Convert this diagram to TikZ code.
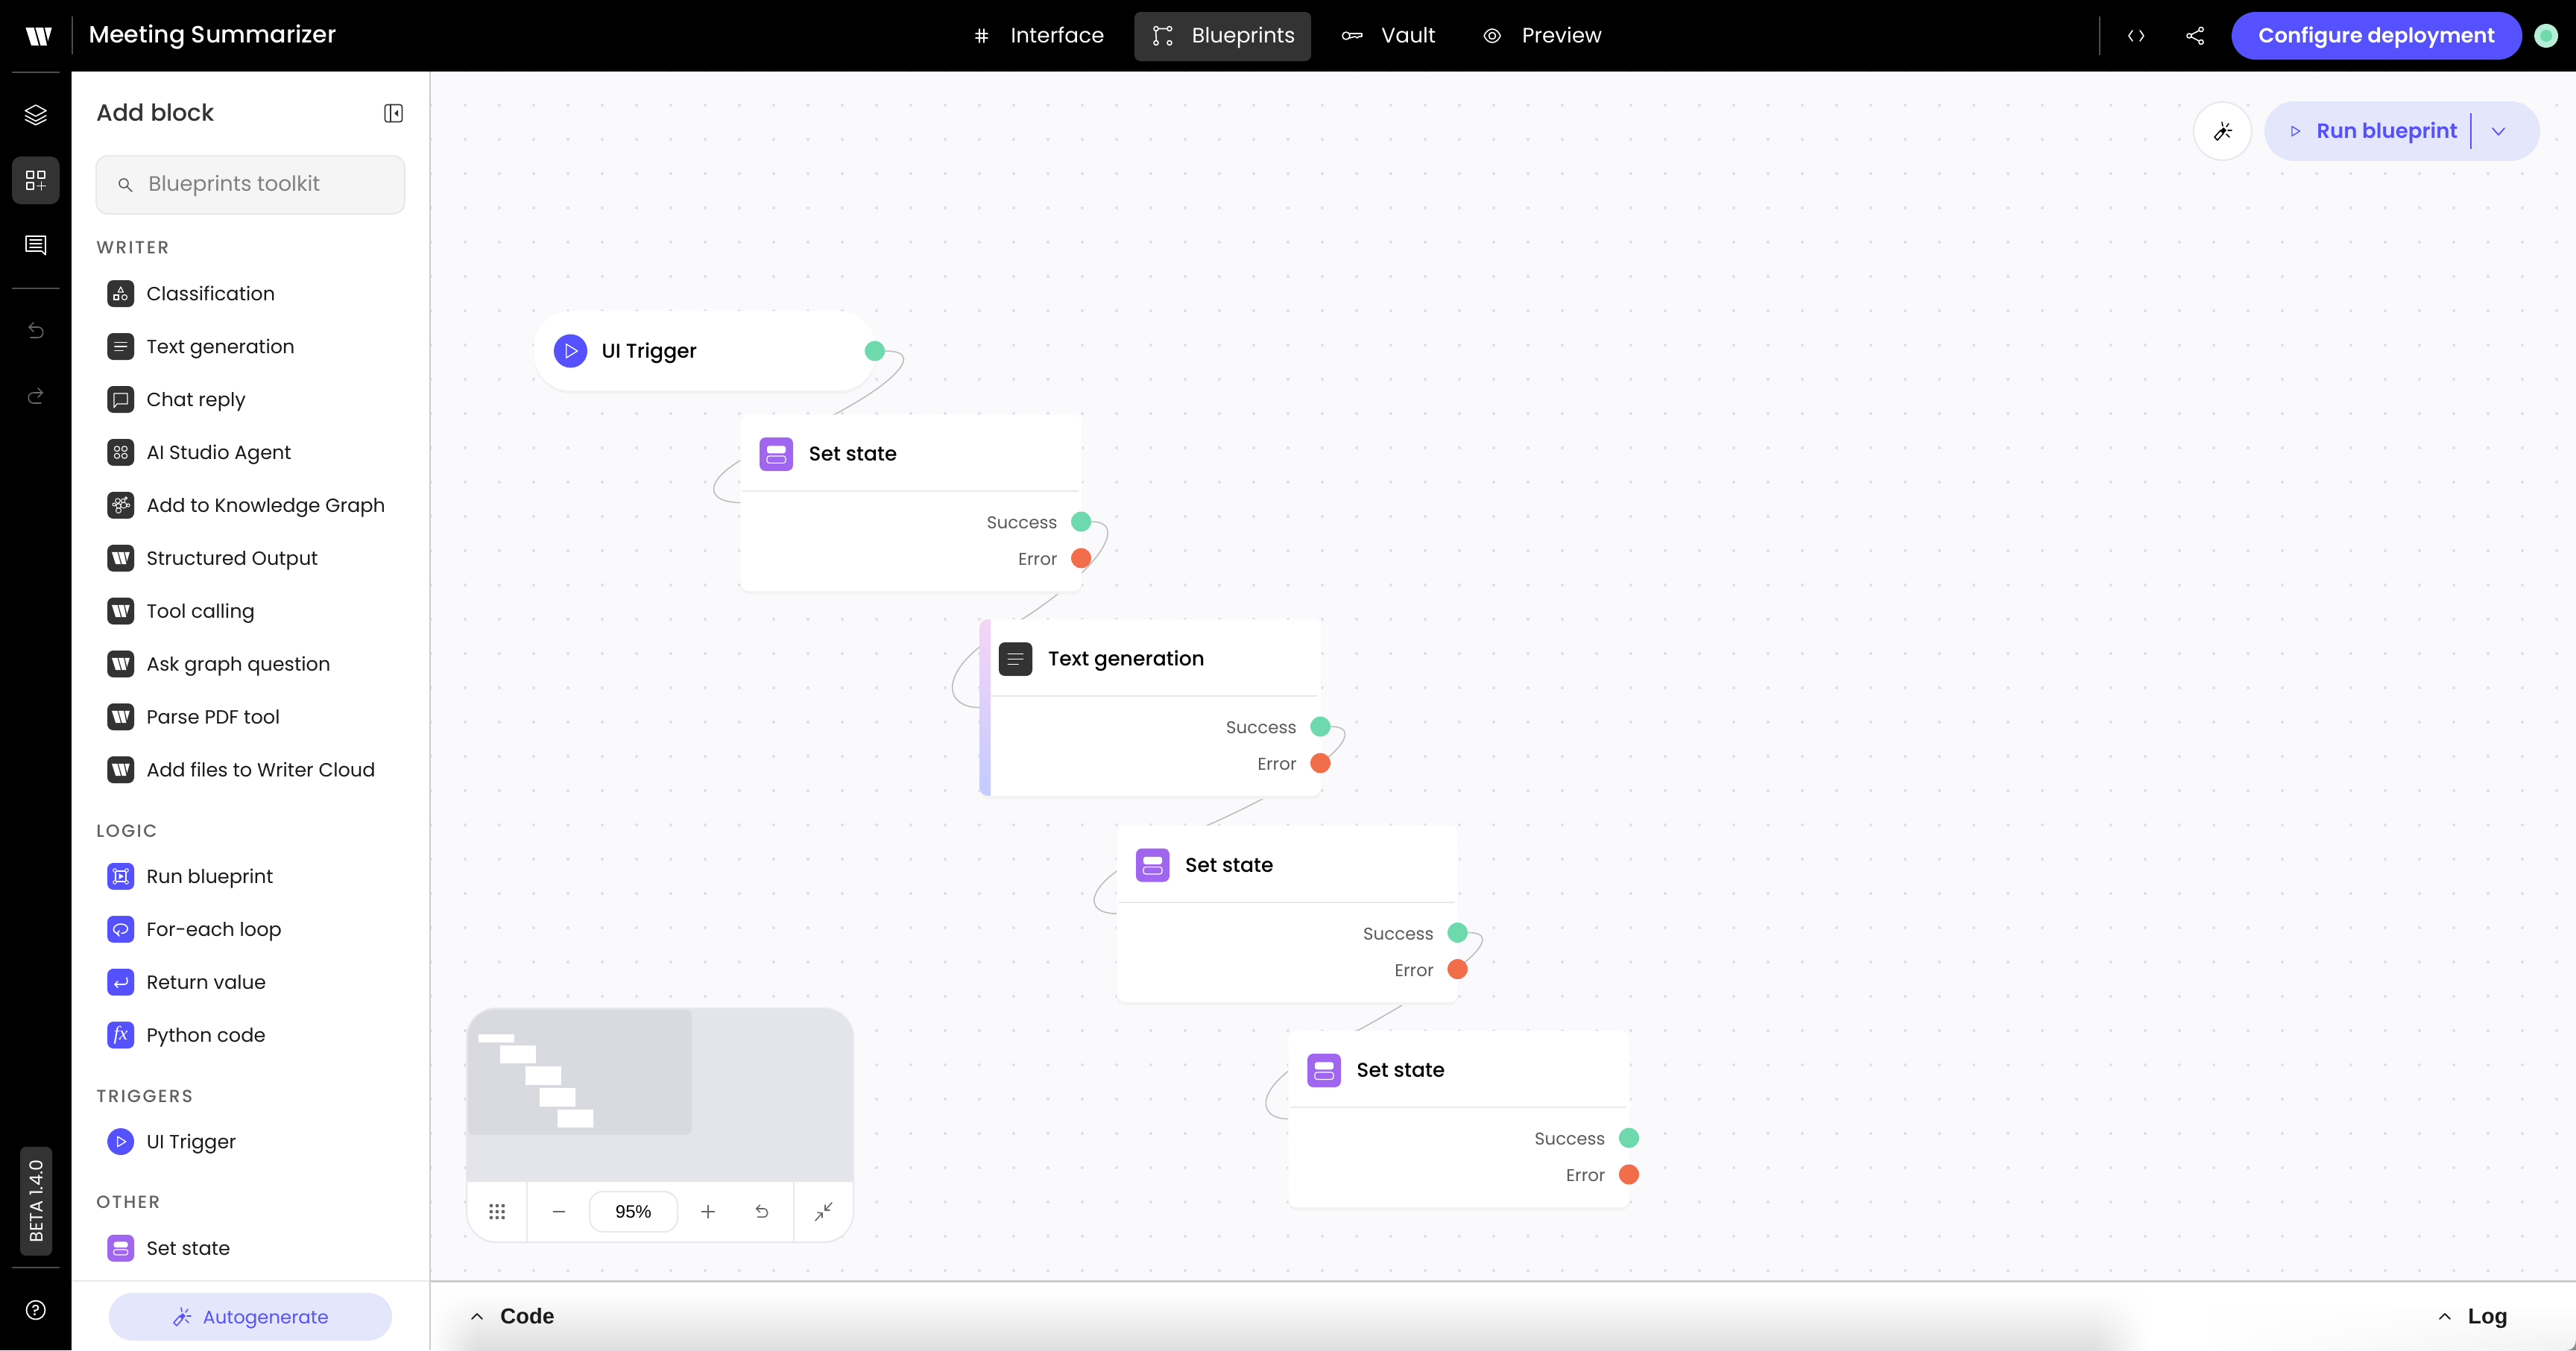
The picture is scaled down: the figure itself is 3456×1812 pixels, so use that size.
\documentclass[tikz,border=0pt]{standalone}
\usepackage{fontspec}
\setmainfont{Poppins}
\newfontfamily\popmed{Poppins Medium}
\newfontfamily\popsemi{Poppins SemiBold}
\newfontfamily\helv{Liberation Sans}
\newfontfamily\serifit{Liberation Serif}
\usetikzlibrary{positioning,shadows,fadings}
\pgfdeclarelayer{back}
\pgfsetlayers{back,main}

\definecolor{canvasbg}{HTML}{FAFAFD}
\definecolor{griddot}{HTML}{DEDEE4}
\definecolor{ink}{HTML}{1A1A1A}
\definecolor{darkbox}{HTML}{333333}
\definecolor{indigo}{HTML}{5551FF}
\definecolor{lilac}{HTML}{E4E7FB}
\definecolor{setpurple}{HTML}{A066F0}
\definecolor{okgreen}{HTML}{6FD9AE}
\definecolor{errorange}{HTML}{F26E4B}
\definecolor{wiregray}{HTML}{BDBDBD}
\definecolor{hairline}{HTML}{E8E8EE}
\definecolor{mapback}{HTML}{E4E5EA}
\definecolor{mapview}{HTML}{D9DAE0}
\definecolor{stripetop}{HTML}{F5D5F5}
\definecolor{stripebot}{HTML}{C3CBFF}

\tikzset{
  icn/.style={line width=.8pt,line cap=round,line join=round},
  iconbox/.style={fill=#1,rounded corners=4pt,minimum size=18pt,inner sep=0pt},
  iconround/.style={fill=#1,circle,minimum width=18pt,minimum height=18pt,inner sep=0pt},
  itemlabel/.style={font=\fontsize{12.8}{16}\selectfont,text=ink,anchor=mid west,inner sep=0pt,yshift=-2.2pt},
  grouplabel/.style={font=\popmed\fontsize{11.8}{14}\selectfont\addfontfeatures{LetterSpace=10},text=black!62,anchor=mid west,inner sep=0pt,yshift=-1.8pt},
  navlabel/.style={font=\fontsize{14}{16}\selectfont,text=white,anchor=mid west,inner sep=0pt,yshift=-1.8pt},
  blockbox/.style={fill=white,rounded corners=6pt,anchor=north west,minimum width=229pt,minimum height=118.5pt,inner sep=0pt,
    copy shadow={shadow xshift=0pt,shadow yshift=-2pt,fill=black!5,draw=none}},
  blocktitle/.style={font=\popmed\fontsize{13.35}{16}\selectfont,text=black,anchor=mid west,inner sep=0pt,yshift=-1.8pt},
  portlabel/.style={font=\fontsize{11.5}{14}\selectfont,text=black!65,anchor=mid east,inner sep=0pt,yshift=-2pt},
  portdot/.style={circle,fill=#1,minimum size=13.5pt,inner sep=0pt},
  wire/.style={draw=wiregray,line width=.8pt},
  pics/wmark/.style={code={
    \fill (-17.6,-12)--(-6.5,-12)--(0,12)--(-10,12)--cycle;
    \fill (-4.5,-12)--(6,-12)--(11,12)--(2.5,12)--cycle;
    \fill (8,-12)--(17.6,-12)--(12.5,6)--cycle;}},
  pics/layers/.style={code={
    \draw[icn] (0,-13)--(14,-5.5)--(0,2)--(-14,-5.5)--cycle;
    \draw[icn] (-14,1)--(0,8.5)--(14,1);
    \draw[icn] (-14,6.5)--(0,13.5)--(14,6.5);}},
  pics/apps/.style={code={
    \draw[icn] (-12,-12) rectangle (-3,-3);
    \draw[icn] (3,-12) rectangle (12,-3);
    \draw[icn] (-12,3) rectangle (-3,12);
    \draw[icn] (7.5,2)--(7.5,13) (2,7.5)--(13,7.5);}},
  pics/comment/.style={code={
    \draw[icn] (-13,-11)--(13,-11)--(13,14)--(8,9)--(-13,9)--cycle;
    \draw[icn] (-8,-6)--(8,-6) (-8,-1)--(8,-1) (-8,4)--(8,4);}},
  pics/undoarrow/.style={code={
    \draw[icn] (-3,-11)--(-9,-5)--(-3,1);
    \draw[icn] (-9,-5)--(3,-5) .. controls (12,-5) and (12,9) .. (3,9)--(-7,9);}},
  pics/panelicon/.style={code={
    \draw[icn,rounded corners=1.5pt] (-11.5,-11.5) rectangle (11.5,11.5);
    \draw[icn] (-4,-11.5)--(-4,11.5);
    \fill (6,-4.5)--(6,4.5)--(1,0)--cycle;}},
  pics/lens/.style={code={
    \draw[icn] (-2,-2) circle (6);
    \draw[icn] (2.5,2.5)--(9,9);}},
  pics/hash/.style={code={
    \draw[icn] (-3,-9)--(-3,9) (3,-9)--(3,9) (-8,-3)--(8,-3) (-8,3)--(8,3);}},
  pics/flow/.style={code={
    \draw[icn] (-9,-9.5) circle (3) (9,-9.5) circle (3) (-9,9.5) circle (3) (9,9.5) circle (3);
    \draw[icn] (-6,-9.5)--(6,-9.5) (-9,-6.5) .. controls (-10,-2) and (-8,2) .. (-9,6.5);}},
  pics/keyicon/.style={code={
    \draw[icn] (-9,0) ellipse (5 and 5);
    \draw[icn] (-4,-3)--(12,-3)--(12,1)--(8,1)--(6,3)--(3,1)--(-4,3);}},
  pics/eye/.style={code={
    \draw[icn] (-11,0) .. controls (-6,-12) and (6,-12) .. (11,0) .. controls (6,12) and (-6,12) .. (-11,0)--cycle;
    \draw[icn] (0,0) circle (4.5);}},
  pics/codeicon/.style={code={
    \draw[icn] (-5,-7)--(-10,0)--(-5,7) (5,-7)--(10,0)--(5,7);}},
  pics/share/.style={code={
    \draw[icn] (8,-8.5) circle (3) (-8,0) circle (3) (8,8.5) circle (3);
    \draw[icn] (5.3,-7)--(-5.3,-1.5) (-5.3,1.5)--(5.3,7);}},
  pics/wand/.style={code={
    \draw[icn] (-11,8)--(-3,-1)--(1,3)--(-7,12)--cycle;
    \fill (-3,-1)--(1,-5)--(5,-1)--(1,3)--cycle;
    \draw[icn] (-1,-12)--(0,-7) (8,-10)--(5,-6) (12,-1)--(7,-1) (9,8)--(5,4);}},
  pics/shapes3/.style={code={
    \draw[line width=.6pt,line join=round] (-3.5,-2)--(0,-9)--(3.5,-2)--cycle;
    \draw[line width=.6pt] (-9,2) rectangle (-3,8);
    \draw[line width=.6pt] (5,5) circle (3.5);}},
  pics/lines3/.style={code={
    \draw[icn] (-8,-5.5)--(8,-5.5) (-8,0)--(8,0) (-8,5.5)--(3,5.5);}},
  pics/bubble/.style={code={
    \draw[line width=.6pt,line join=round] (-9,-8)--(9,-8)--(9,6)--(-5,6)--(-9,11)--cycle;}},
  pics/agent/.style={code={
    \draw[line width=.6pt,rounded corners=1.5pt] (-8.5,-8) rectangle (-1.5,-1.5);
    \draw[line width=.6pt,rounded corners=1.5pt] (1.5,-8) rectangle (8.5,-1.5);
    \draw[line width=.6pt,rounded corners=1.5pt] (-8.5,1.5) rectangle (-1.5,8);
    \draw[line width=.6pt,rounded corners=1.5pt] (1.5,1.5) rectangle (8.5,8);}},
  pics/kgraph/.style={code={
    \draw[line width=.5pt] (-4,-6) circle (3.2) (3,-6) circle (2.6) (7,-9.5) circle (1.6) (-9,-1) circle (2)
      (-3,1) circle (3.2) (4,0) circle (4) (10,0) circle (2) (-3,7) circle (3.5);}},
  pics/runbp/.style={code={
    \draw[line width=.6pt] (-7,-7) rectangle (7,7);
    \fill[indigo] (-8,-8) circle (2.6) (8,-8) circle (2.6) (-8,8) circle (2.6) (8,8) circle (2.6);
    \draw[line width=.5pt] (-8,-8) circle (2.3) (8,-8) circle (2.3) (-8,8) circle (2.3) (8,8) circle (2.3);
    \fill (-2.5,-4)--(4,0)--(-2.5,4)--cycle;}},
  pics/loopicon/.style={code={
    \draw[icn] (-3,6) .. controls (-14,4) and (-10,-7) .. (0,-7) .. controls (12,-7) and (12,5) .. (1,5.5);
    \draw[icn] (-2,2)--(-5,6)--(-2,9);}},
  pics/retarrow/.style={code={
    \draw[icn] (8,-6) .. controls (10,0) and (9,3) .. (4,3)--(-8,3);
    \draw[icn] (-4,-1)--(-8,3)--(-4,7);}},
  pics/playicon/.style={code={
    \draw[line width=.7pt,line join=round] (-5,-8)--(8,0)--(-5,8)--cycle;}},
  pics/setstate/.style={code={
    \fill[rounded corners=1.5pt] (-10,-9) rectangle (10,-1);
    \draw[line width=.6pt,rounded corners=1.5pt] (-10,2) rectangle (10,9.5);}},
}

\begin{document}
\begin{tikzpicture}[x=0.5pt,y=-0.5pt]
\useasboundingbox (0,0) rectangle (3456,1812);

% nodes of the flow
\node[blockbox,rounded corners=25pt,minimum width=229.5pt,minimum height=53.5pt] (trig) at (716,417) {};
\node[iconround=indigo,minimum width=22.5pt,minimum height=22.5pt] (trigicon) at (765.5,471) {};
\pic[color=white,scale=1.15] at (trigicon) {playicon};
\node[blocktitle] (trigtext) at (807,471) {UI Trigger};
\node[portdot=okgreen] (trigok) at (1173.7,471) {};

\foreach \bname/\bx/\by/\btext/\bicon/\bfill in {set1/993/556/Set state/setstate/setpurple,
    gen1/1314/831/Text generation/lines3/darkbox,
    set2/1498/1107.5/Set state/setstate/setpurple,
    set3/1728/1383/Set state/setstate/setpurple}{
  \node[blockbox] (\bname) at (\bx,\by) {};
  \node[iconbox=\bfill,minimum size=22.5pt] (\bname icon) at (\bx+48.5,\by+53.5) {};
  \pic[color=white,scale=1.25] at (\bname icon) {\bicon};
  \node[blocktitle] (\bname text) at (\bx+92,\by+53.5) {\btext};
  \draw[hairline,line width=1pt] (\bx+3,\by+103) -- (\bx+454,\by+103);
  \node[portlabel] (\bname oklabel) at (\bx+426,\by+144) {Success};
  \node[portlabel] (\bname errlabel) at (\bx+426,\by+193) {Error};
  \node[portdot=okgreen] (\bname ok) at (\bx+457.5,\by+144) {};
  \node[portdot=errorange] (\bname err) at (\bx+457.5,\by+193) {};
  \coordinate (\bname in) at (\bx,\by+118.5);
}
\begin{scope}
\clip (1314,820) rectangle (1329,1080);
\shade[top color=stripetop,bottom color=stripebot,rounded corners=6pt] (1314,831) rectangle (1350,1068);
\end{scope}

% the wires pass behind the blocks
\coordinate (via1) at (1060,585);
\coordinate (via2) at (1340,850);
\coordinate (via3) at (1560,1133);
\coordinate (via4) at (1775,1408);
\begin{pgfonlayer}{back}
\fill[canvasbg] (578,96) rectangle (3456,1721);
\foreach \dx in {0,...,62}
  \foreach \dy in {0,...,35}
    \fill[griddot] (578+46*\dx,95+46*\dy) circle (2);
\draw[wire] (trigok.east) .. controls +(64,0) and +(125,-55) .. (via1) .. controls +(-134,55) and +(-47,0) .. (set1in);
\draw[wire] (set1ok.east) .. controls +(54,0) and +(130,-75) .. (via2) .. controls +(-84,52) and +(-47,0) .. (gen1in);
\draw[wire] (gen1ok.east) .. controls +(52,0) and +(230,-93) .. (via3) .. controls +(-110,52) and +(-47,0) .. (set2in);
\draw[wire] (set2ok.east) .. controls +(50,0) and +(205,-108) .. (via4) .. controls +(-97,50) and +(-42,0) .. (set3in);
\end{pgfonlayer}

% top bar and rail
\fill[black] (0,0) rectangle (3456,96);
\fill[black] (0,96) rectangle (96,1812);
\pic[color=white] at (52,49) {wmark};
\draw[black!70,line width=.8pt] (97,22) -- (97,73);
\node[navlabel,font=\popmed\fontsize{15.85}{20}\selectfont] (title) at (119,48) {Meeting Summarizer};
\draw[black!70,line width=.8pt] (16,97) -- (80,97) (16,387) -- (80,387) (16,1701) -- (80,1701);
\pic[color=white] at (48,154) {layers};
\node[iconbox=darkbox,rounded corners=6pt,minimum size=32pt] (railactive) at (48,242) {};
\pic[color=white] at (railactive) {apps};
\pic[color=white] at (48,328) {comment};
\pic[color=black!60] at (48,444) {undoarrow};
\pic[color=black!60,xscale=-1] at (48,532) {undoarrow};
\node[fill=darkbox,rounded corners=4pt,minimum width=21.5pt,minimum height=73pt,inner sep=0pt] (betabox) at (48.5,1612) {};
\node[rotate=90,text=white,font=\fontsize{12}{14}\selectfont,inner sep=0pt] (beta) at (betabox) {BETA 1.4.0};
\node[circle,draw=white,line width=.9pt,minimum size=12.5pt,inner sep=0pt,text=white,font=\popmed\fontsize{10}{12}\selectfont] (help) at (48,1758) {?};

% navigation
\node[fill=darkbox,rounded corners=4pt,minimum width=118.5pt,minimum height=33pt,inner sep=0pt] (navactive) at (1640.5,49) {};
\pic[color=white] at (1317,48) {hash};
\node[navlabel] (nav1) at (1356,48) {Interface};
\pic[color=white] at (1560,48) {flow};
\node[navlabel] (nav2) at (1599,48) {Blueprints};
\pic[color=white] at (1815,48) {keyicon};
\node[navlabel] (nav3) at (1853,48) {Vault};
\pic[color=white] at (2002,48) {eye};
\node[navlabel] (nav4) at (2042,48) {Preview};
\draw[black!70,line width=.8pt] (2817,22) -- (2817,74);
\pic[color=white] at (2866,48) {codeicon};
\pic[color=white] at (2945,48) {share};
\node[fill=indigo,rounded corners=16pt,minimum width=195pt,minimum height=32pt,inner sep=0pt] (deploy) at (3189,48) {};
\node[anchor=mid,inner sep=0pt,yshift=-1.8pt,text=white,font=\popsemi\fontsize{13.8}{18}\selectfont] (deploytext) at (deploy) {Configure deployment};
\node[circle,fill=okgreen!50,minimum size=16pt,inner sep=0pt] (status) at (3416,48) {};
\node[circle,fill=okgreen,minimum size=8pt,inner sep=0pt] (statusin) at (status) {};

% canvas buttons
\node[circle,fill=white,draw=hairline,line width=1pt,minimum size=39pt,inner sep=0pt] (wandbtn) at (2982,176) {};
\pic[color=black] at (wandbtn) {wand};
\node[fill=lilac,rounded corners=20pt,minimum width=185pt,minimum height=40pt,inner sep=0pt] (runbtn) at (3223,176) {};
\pic[color=indigo,scale=.8] at (3079,176) {playicon};
\node[blocktitle,text=indigo,font=\popsemi\fontsize{13.8}{18}\selectfont] (runtext) at (3108,176) {Run blueprint};
\draw[indigo,line width=.8pt] (3315,152) -- (3315,200);
\draw[indigo,line width=.9pt,line cap=round,line join=round] (3344,172) -- (3352,181) -- (3360,172);

% side panel
\fill[white] (96,96) rectangle (576,1812);
\fill[black!20] (576,96) rectangle (578,1812);
\node[blocktitle,text=darkbox,font=\popmed\fontsize{15.7}{20}\selectfont] (paneltitle) at (129,153) {Add block};
\pic[color=darkbox] at (528,152) {panelicon};
\node[fill=black!4,draw=hairline,line width=1pt,rounded corners=8pt,minimum width=207pt,minimum height=39pt,inner sep=0pt] (search) at (336,248) {};
\pic[color=black!65] at (168,248) {lens};
\node[itemlabel,font=\fontsize{14}{16}\selectfont,text=black!50] (searchtext) at (199,247) {Blueprints toolkit};

\node[grouplabel] (grp1) at (129,331) {WRITER};
\node[grouplabel] (grp2) at (129,1114) {LOGIC};
\node[grouplabel] (grp3) at (129,1470) {TRIGGERS};
\node[grouplabel] (grp4) at (129,1612) {OTHER};

\foreach \yy/\ictype/\lbl in {394/shapes3/Classification,465/lines3/Text generation,536/bubble/Chat reply,607/agent/AI Studio Agent,678/kgraph/Add to Knowledge Graph}{
  \node[iconbox=darkbox] (box\yy) at (162,\yy) {};
  \pic[color=white] at (box\yy) {\ictype};
  \node[itemlabel] (lab\yy) at ([xshift=8pt]box\yy.east) {\lbl};
}
\foreach \yy/\lbl in {749/Structured Output,820/Tool calling,891/Ask graph question,962/Parse PDF tool,1033/Add files to Writer Cloud}{
  \node[iconbox=darkbox] (box\yy) at (162,\yy) {};
  \pic[color=white,scale=.68] at (box\yy) {wmark};
  \node[itemlabel] (lab\yy) at ([xshift=8pt]box\yy.east) {\lbl};
}
\foreach \yy/\ictype/\lbl in {1176/runbp/Run blueprint,1247/loopicon/For-each loop,1318/retarrow/Return value}{
  \node[iconbox=indigo] (box\yy) at (162,\yy) {};
  \pic[color=white] at (box\yy) {\ictype};
  \node[itemlabel] (lab\yy) at ([xshift=8pt]box\yy.east) {\lbl};
}
\node[iconbox=indigo,text=white,font=\serifit\itshape\fontsize{13}{14}\selectfont] (box1389) at (162,1389) {fx};
\node[itemlabel] (lab1389) at ([xshift=8pt]box1389.east) {Python code};
\node[iconround=indigo] (box1532) at (162,1532) {};
\pic[color=white,scale=.85] at (box1532) {playicon};
\node[itemlabel] (lab1532) at ([xshift=8pt]box1532.east) {UI Trigger};
\node[iconbox=setpurple] (box1675) at (162,1675) {};
\pic[color=white,scale=.95] at (box1675) {setstate};
\node[itemlabel] (lab1675) at ([xshift=8pt]box1675.east) {Set state};

\draw[hairline,line width=1pt] (96,1719) -- (576,1719);
\node[fill=lilac,rounded corners=16pt,minimum width=190pt,minimum height=32pt,inner sep=0pt] (autobtn) at (336,1767) {};
\pic[color=indigo] at (244,1767) {wand};
\node[itemlabel,text=indigo,font=\fontsize{12.2}{16}\selectfont] (autotext) at (272,1767) {Autogenerate};

% minimap
\draw[fill=white,draw=hairline,line width=1pt,rounded corners=20pt] (626,1353) rectangle (1145,1667);
\fill[mapback] (627,1586) -- (627,1400) [rounded corners=19pt] -- (627,1354) -- (1144,1354) -- (1144,1400) [sharp corners] -- (1144,1586) -- cycle;
\fill[mapview,rounded corners=4pt] (628,1400) [rounded corners=18pt] -- (628,1355) [rounded corners=4pt] -- (928,1355) -- (928,1523) -- (628,1523) -- cycle;
\foreach \rx/\rtop/\rbot in {642/1388/1399,671/1403/1427,705/1431/1456,724/1460/1485,748/1489/1513}
  \fill[white] (\rx,\rtop) rectangle (\rx+48,\rbot);
\draw[hairline,line width=1pt] (707,1586) -- (707,1667) (1065,1586) -- (1065,1667);
\foreach \gx in {-8,0,8}
  \foreach \gy in {-8,0,8}
    \fill[black!60] (667+\gx,1626+\gy) circle (2.4);
\draw[black!60,line width=.9pt] (742,1626) -- (758,1626);
\node[draw=hairline,fill=white,line width=1pt,rounded corners=9pt,minimum width=59pt,minimum height=27pt,inner sep=0pt,font=\helv\fontsize{12}{14}\selectfont] (zoomval) at (850,1626) {95\%};
\draw[black!60,line width=.9pt] (941,1626) -- (959,1626) (950,1617) -- (950,1635);
\pic[color=black!60,scale=.8] at (1022,1626) {undoarrow};
\draw[black!60,line width=.8pt,line cap=round] (1094,1638) -- (1103,1628) (1097,1627) -- (1103,1628) -- (1103,1634) (1116,1614) -- (1107,1624) (1107,1617) -- (1107,1624) -- (1113,1624);

% bottom bar
\fill[white] (578,1721) rectangle (3456,1812);
\shade[top color=white,bottom color=black!13] (640,1735) rectangle (2810,1812);
\shade[top color=white,bottom color=black!13,path fading=west] (578,1735) rectangle (641,1812);
\shade[top color=white,bottom color=black!13,path fading=east] (2809,1735) rectangle (2880,1812);
\shade[top color=white,bottom color=black!5,path fading=west] (2960,1750) rectangle (3456,1812);
\fill[black!45] (3442,1812) .. controls (3452,1812) and (3456,1806) .. (3456,1796) -- (3456,1812) -- cycle;
\fill[black!20] (578,1718) rectangle (3456,1721);
\draw[ink,line width=.9pt,line cap=round,line join=round] (633,1770) -- (640,1763) -- (647,1770);
\node[itemlabel,font=\helv\bfseries\fontsize{14.5}{16}\selectfont] (codetext) at (671,1767) {Code};
\draw[ink,line width=.9pt,line cap=round,line join=round] (3273,1770) -- (3280,1763) -- (3287,1770);
\node[itemlabel,font=\helv\bfseries\fontsize{14.5}{16}\selectfont] (logtext) at (3311,1767) {Log};
\end{tikzpicture}
\end{document}
